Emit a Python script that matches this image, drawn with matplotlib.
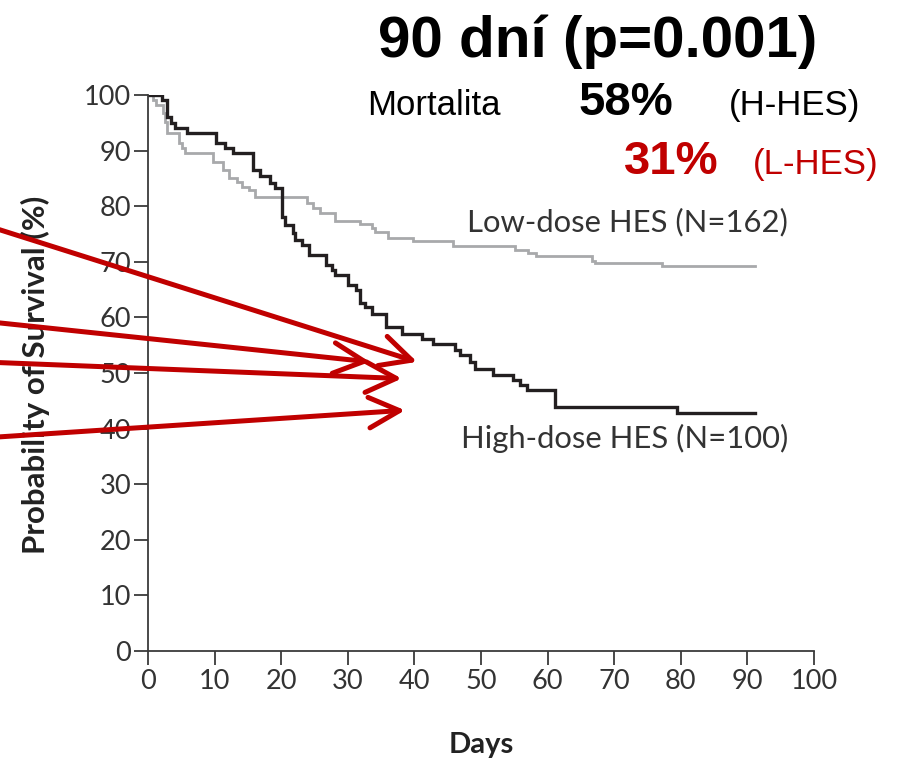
import matplotlib
matplotlib.use("Agg")
import matplotlib.pyplot as plt

# Kaplan-Meier steps: day of change -> survival (%)
HIGH_DAYS = [0, 2.1, 2.8, 3.4, 4.0, 5.9, 10.2, 11.5, 12.8, 15.8, 16.8, 18.3, 19.0,
             20.1, 20.6, 21.8, 22.1, 23.1, 24.1, 26.8, 27.6, 28.1, 30.1, 31.3, 31.8,
             32.6, 33.6, 35.7, 38.1, 41.1, 42.8, 46.1, 46.8, 48.3, 49.1, 51.8, 54.8,
             55.9, 56.9, 61.1, 79.4, 91.1]
HIGH_SURV = [100, 99.1, 96.1, 94.9, 94.1, 93.2, 91.3, 90.4, 89.5, 86.5, 85.4, 84.1, 83.3,
             78.1, 76.6, 75.1, 73.9, 73.0, 71.2, 69.4, 68.5, 67.6, 65.8, 64.9, 62.5,
             61.9, 60.7, 58.3, 57.1, 56.2, 55.3, 54.1, 53.2, 52.0, 50.8, 49.6, 48.7,
             47.8, 46.9, 43.9, 42.8, 42.8]

LOW_DAYS = [0, 0.7, 1.2, 2.2, 2.5, 2.8, 4.6, 5.1, 5.6, 9.8, 11.3, 12.1, 13.3, 14.1,
            15.1, 16.1, 23.9, 24.8, 25.8, 28.1, 31.8, 33.6, 34.1, 36.1, 39.8, 45.8,
            55.1, 57.1, 58.3, 66.7, 67.1, 77.2, 91.1]
LOW_SURV = [100, 99.1, 98.2, 96.7, 95.1, 93.1, 91.3, 90.4, 89.5, 88.0, 86.5, 85.0, 84.4,
            83.5, 82.9, 81.6, 80.5, 79.6, 78.7, 77.4, 76.8, 76.0, 75.4, 74.2, 73.7, 72.8,
            72.2, 71.6, 71.1, 70.2, 69.8, 69.3, 69.3]

X_TICKS = list(range(0, 101, 10))
Y_TICKS = list(range(0, 101, 10))

HIGH_LABEL = "High-dose HES (N=100)"
LOW_LABEL = "Low-dose HES (N=162)"

# red arrows overlaid on the chart: (start day, start %) -> (tip day, tip %)
ARROWS = [
    ((-25, 76.8), (40.4, 52.0)),
    ((-25, 59.35), (33.3, 52.0)),
    ((-25, 52.0), (38.1, 49.0)),
    ((-25, 38.3), (38.6, 43.3)),
]

RED = "#c00000"
AXIS_GREY = "#3a3a3a"


def main():
    fig = plt.figure(figsize=(9, 7.6), dpi=100)
    ax = fig.add_axes([148 / 900, 1 - 651 / 760, 666 / 900, 556 / 760])

    ax.step(LOW_DAYS, LOW_SURV, where="post", color="#a8a9ab", linewidth=2.0,
            solid_joinstyle="miter")
    ax.step(HIGH_DAYS, HIGH_SURV, where="post", color="#231f20", linewidth=2.4,
            solid_joinstyle="miter")

    ax.set_xlim(0, 100)
    ax.set_ylim(0, 100)
    ax.set_xticks(X_TICKS)
    ax.set_yticks(Y_TICKS)
    for side in ("top", "right"):
        ax.spines[side].set_visible(False)
    for side in ("left", "bottom"):
        ax.spines[side].set_color(AXIS_GREY)
        ax.spines[side].set_linewidth(1.3)
    ax.tick_params(direction="out", length=10, width=1.3, color=AXIS_GREY,
                   labelcolor="#333333", labelsize=19.5)
    ax.tick_params(axis="y", pad=2)
    ax.tick_params(axis="x", pad=3)
    for lab in ax.get_xticklabels() + ax.get_yticklabels():
        lab.set_family("Lato")

    ax.set_xlabel("Days", fontsize=21, fontweight="bold", family="Lato", color="#222222")
    ax.set_ylabel("Probability of Survival (%)", fontsize=22.5, fontweight="bold",
                  family="Lato", color="#222222")
    ax.xaxis.set_label_coords(0.5, -0.145)
    ax.yaxis.set_label_coords(-0.147, 0.496)

    ax.text(96.1, 77.2, LOW_LABEL, ha="right", va="center", fontsize=22.3,
            family="Lato", color="#333333")
    ax.text(96.1, 38.3, HIGH_LABEL, ha="right", va="center", fontsize=22.3,
            family="Lato", color="#333333")

    for start, tip in ARROWS:
        ax.annotate("", xy=tip, xytext=start, annotation_clip=False,
                    arrowprops=dict(arrowstyle="->,head_length=2.2,head_width=1.1",
                                    mutation_scale=10, color=RED, lw=3.6,
                                    shrinkA=0, shrinkB=0))

    # headline block, figure pixel positions converted to fractions
    def fx(px):
        return px / 900

    def fy(py):
        return 1 - py / 760

    fig.text(fx(598), fy(57), "90 dní (p=0.001)", fontsize=42, fontweight="bold",
             family="Liberation Sans", va="baseline", ha="center")
    fig.text(fx(367), fy(115), "Mortalita", fontsize=25,
             family="Liberation Sans", va="baseline", ha="left")
    fig.text(fx(579), fy(115), "58%", fontsize=34, fontweight="bold",
             family="Liberation Sans", va="baseline", ha="left")
    fig.text(fx(795), fy(115), "(H-HES)", fontsize=25,
             family="Liberation Sans", va="baseline", ha="center")
    fig.text(fx(624), fy(174), "31%", fontsize=34, fontweight="bold", color=RED,
             family="Liberation Sans", va="baseline", ha="left")
    fig.text(fx(753), fy(174), "(L-HES)", fontsize=25, color=RED,
             family="Liberation Sans", va="baseline", ha="left")

    fig.savefig("out.png", dpi=100)


if __name__ == "__main__":
    main()
